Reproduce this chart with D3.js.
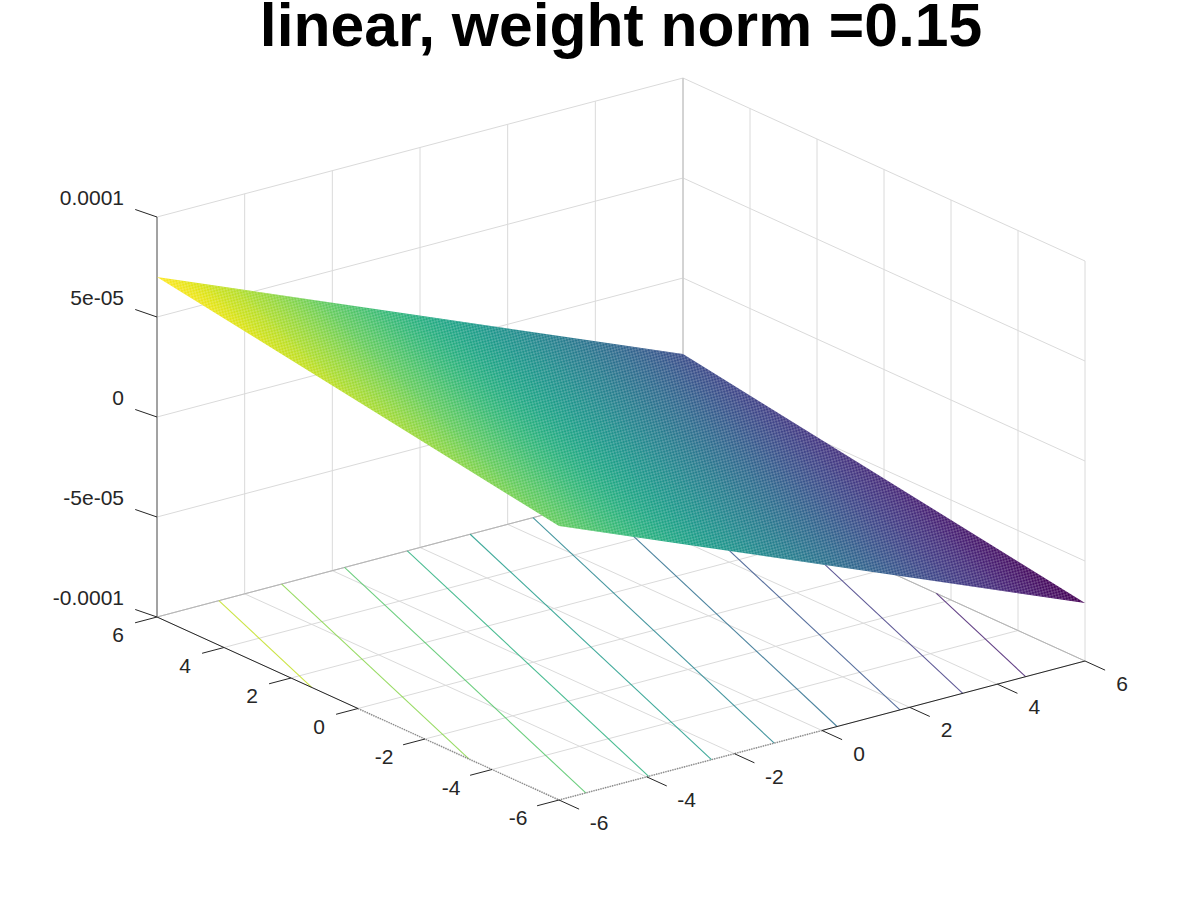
<!DOCTYPE html>
<html>
<head>
<meta charset="utf-8">
<script src="https://cdn.jsdelivr.net/npm/d3@7/dist/d3.min.js"></script>
<style>
  html, body { margin: 0; background: #fff; }
  text { font-family: "Liberation Sans", sans-serif; }
</style>
</head>
<body>
<div id="chart"></div>
<script>
const titleText = 'linear, weight norm =0.15'
const xTicks = [-6, -4, -2, 0, 2, 4, 6]
const yTicks = [-6, -4, -2, 0, 2, 4, 6]
const zTicks = [-1e-4, -5e-5, 0, 5e-5, 1e-4]
const zTickLabels = ['-0.0001', '-5e-05', '0', '5e-05', '0.0001']

const surfaceCorners = [
  [-6, 6, 0.70e-4],
  [-6, -6, 0.37e-4],
  [6, -6, -0.71e-4],
  [6, 6, -0.38e-4]
]
const contourLevels = [-0.588e-4, -0.459e-4, -0.33e-4, -0.201e-4, -0.072e-4, 0.057e-4, 0.186e-4, 0.315e-4, 0.444e-4, 0.573e-4]

const width = 1200
const height = 900
const xLim = [-6, 6]
const yLim = [-6, 6]
const zLim = [-1e-4, 1e-4]

const svg = d3.select('#chart').append('svg')
  .attr('width', width)
  .attr('height', height)
  .style('display', 'block')

// oblique view of the box, each axis moves the point along its own screen direction
const xToH = d3.scaleLinear().domain(xLim).range([0, 526])
const xToV = d3.scaleLinear().domain(xLim).range([0, -139])
const yToH = d3.scaleLinear().domain(yLim).range([402, 0])
const yToV = d3.scaleLinear().domain(yLim).range([183, 0])
const zToV = d3.scaleLinear().domain(zLim).range([400, 0])

const project = (x, y, z) => [
  157 + xToH(x) + yToH(y),
  217 + xToV(x) + yToV(y) + zToV(z)
]

const line = d3.line()
const seg = (a, b) => line([project(...a), project(...b)])

const zLow = zLim[0]
const zHigh = zLim[1]
const gridColor = '#dadada'

const grid = svg.append('g').attr('fill', 'none').attr('stroke', gridColor).attr('stroke-width', 1)

// wall at y = 6 and wall at x = 6
xTicks.forEach(x => {
  grid.append('path').attr('d', seg([x, 6, zLow], [x, 6, zHigh]))
  grid.append('path').attr('d', seg([x, yLim[0], zLow], [x, 6, zLow]))
})
yTicks.forEach(y => {
  grid.append('path').attr('d', seg([6, y, zLow], [6, y, zHigh]))
  grid.append('path').attr('d', seg([xLim[0], y, zLow], [6, y, zLow]))
})
zTicks.forEach(z => {
  grid.append('path').attr('d', seg([xLim[0], 6, z], [6, 6, z]))
  grid.append('path').attr('d', seg([6, 6, z], [6, yLim[0], z]))
})

// box edges behind the plot
const back = svg.append('g').attr('fill', 'none').attr('stroke', '#b4b4b4').attr('stroke-width', 1)
back.append('path').attr('d', seg([xLim[0], 6, zLow], [6, 6, zLow]))
back.append('path').attr('d', seg([6, 6, zLow], [6, yLim[0], zLow]))
back.append('path').attr('d', seg([6, 6, zLow], [6, 6, zHigh])).attr('stroke', '#c4c4c4')

// colour map over the range of the surface
const zValues = surfaceCorners.map(d => d[2])
const zMin = d3.min(zValues)
const zMax = d3.max(zValues)
const color = d3.scaleSequential(d3.interpolateViridis).domain([zMin, zMax])

// contours on the floor, found on the edges of the surface patch
const contours = svg.append('g').attr('fill', 'none').attr('stroke-width', 1.1).attr('stroke-opacity', 0.85)
contourLevels.forEach(level => {
  const hits = []
  surfaceCorners.forEach((a, i) => {
    const b = surfaceCorners[(i + 1) % surfaceCorners.length]
    if ((a[2] - level) * (b[2] - level) < 0) {
      const t = (level - a[2]) / (b[2] - a[2])
      hits.push([a[0] + t * (b[0] - a[0]), a[1] + t * (b[1] - a[1])])
    }
  })
  contours.append('path')
    .attr('d', seg([hits[0][0], hits[0][1], zLow], [hits[1][0], hits[1][1], zLow]))
    .attr('stroke', color(level))
})

// front floor axes: the half nearest the corner looks dotted in the original
const axes = svg.append('g').attr('fill', 'none').attr('stroke', '#262626').attr('stroke-width', 1)
axes.append('path').attr('d', seg([xLim[0], 6, zLow], [xLim[0], 0, zLow]))
axes.append('path').attr('d', seg([6, yLim[0], zLow], [0, yLim[0], zLow]))
axes.append('path').attr('d', seg([xLim[0], 0, zLow], [xLim[0], yLim[0], zLow]))
  .attr('stroke', '#8a8a8a').attr('stroke-dasharray', '1.2 1.2').attr('stroke-width', 1.5)
axes.append('path').attr('d', seg([0, yLim[0], zLow], [xLim[0], yLim[0], zLow]))
  .attr('stroke', '#8a8a8a').attr('stroke-dasharray', '1.2 1.2').attr('stroke-width', 1.5)
axes.append('path').attr('d', seg([xLim[0], 6, zLow], [xLim[0], 6, zHigh]))
  .attr('stroke', '#8a8a8a').attr('stroke-width', 1.5)

// ticks and labels
const tickFont = 21
const labels = svg.append('g').attr('fill', '#262626').attr('font-size', tickFont)
const ticks = axes.append('g')

xTicks.forEach(x => {
  ticks.append('path').attr('d', seg([x, yLim[0], zLow], [x, yLim[0] - 0.6, zLow]))
  const p = project(x, yLim[0], zLow)
  labels.append('text').attr('x', p[0] + (x < 0 ? 40 : 37)).attr('y', p[1] + 30).attr('text-anchor', 'middle').text(x)
})
yTicks.forEach(y => {
  ticks.append('path').attr('d', seg([xLim[0], y, zLow], [xLim[0] - 0.5, y, zLow]))
  const p = project(xLim[0], y, zLow)
  labels.append('text').attr('x', p[0] - (y < 0 ? 41 : 39)).attr('y', p[1] + 25).attr('text-anchor', 'middle').text(y)
})
zTicks.forEach((z, i) => {
  // tick leaves the axis a little flatter than the y direction
  ticks.append('path').attr('d', seg([xLim[0], 6, z], [xLim[0], 6.65, z - 1.2e-6]))
  const p = project(xLim[0], 6, z)
  labels.append('text').attr('x', p[0] - 33).attr('y', p[1] - 12).attr('text-anchor', 'end').text(zTickLabels[i])
})

// the patch is flat, so height is linear in screen position and one gradient covers it
const [p0, p1, p2] = surfaceCorners.slice(0, 3).map(d => project(...d))
const [z0, z1, z2] = zValues
const det = (p1[0] - p0[0]) * (p2[1] - p0[1]) - (p2[0] - p0[0]) * (p1[1] - p0[1])
const gx = ((z1 - z0) * (p2[1] - p0[1]) - (z2 - z0) * (p1[1] - p0[1])) / det
const gy = ((z2 - z0) * (p1[0] - p0[0]) - (z1 - z0) * (p2[0] - p0[0])) / det
const g2 = gx * gx + gy * gy

const defs = svg.append('defs')
const grad = defs.append('linearGradient')
  .attr('id', 'surfaceFill')
  .attr('gradientUnits', 'userSpaceOnUse')
  .attr('x1', p0[0] + gx * (zMin - z0) / g2)
  .attr('y1', p0[1] + gy * (zMin - z0) / g2)
  .attr('x2', p0[0] + gx * (zMax - z0) / g2)
  .attr('y2', p0[1] + gy * (zMax - z0) / g2)
d3.range(0, 65).forEach(i => {
  grad.append('stop')
    .attr('offset', i / 64)
    .attr('stop-color', color(zMin + (zMax - zMin) * i / 64))
})

// fine mesh texture, the dense mesh edges wash the colours out a bit
const hatch = defs.append('pattern')
  .attr('id', 'meshHatch')
  .attr('patternUnits', 'userSpaceOnUse')
  .attr('width', 4)
  .attr('height', 4)
  .attr('patternTransform', 'rotate(30)')
hatch.append('rect').attr('width', 2).attr('height', 2).attr('fill', '#fff').attr('fill-opacity', 0.22)
hatch.append('rect').attr('x', 2).attr('y', 2).attr('width', 2).attr('height', 2).attr('fill', '#fff').attr('fill-opacity', 0.22)

const surfacePath = line(surfaceCorners.map(d => project(...d))) + 'Z'
svg.append('path').attr('d', surfacePath).attr('fill', 'url(#surfaceFill)')
svg.append('path').attr('d', surfacePath).attr('fill', 'url(#meshHatch)')

// title
svg.append('text')
  .attr('x', 621)
  .attr('y', 45.5)
  .attr('text-anchor', 'middle')
  .attr('font-size', 60.6)
  .attr('font-weight', 'bold')
  .attr('fill', '#000')
  .text(titleText)
</script>
</body>
</html>
